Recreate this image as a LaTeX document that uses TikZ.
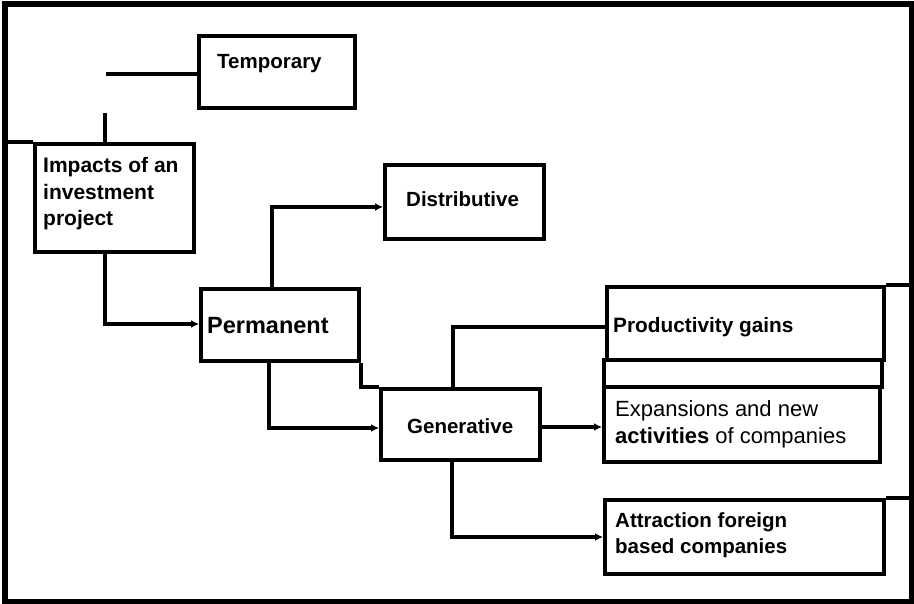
\documentclass[tikz,border=0pt]{standalone}
\usepackage{fontspec}
\setmainfont{Liberation Sans}
\usetikzlibrary{arrows.meta}
\begin{document}
\begin{tikzpicture}[x=1pt,y=-1pt,
  box/.style={draw, line width=4pt, rectangle, inner sep=0pt, anchor=north west},
  conn/.style={line width=3.5pt},
  arr/.style={conn, -{Latex[length=8pt,width=8pt]}},
  lbl/.style={inner sep=0pt, anchor=west, align=left, font=\bfseries\fontsize{20.5}{26}\selectfont},
]
\useasboundingbox (0,0) rectangle (914,604);
% outer frame
\draw[line width=5.5pt] (5,4) rectangle (912,602);
% boxes
\node[box, minimum width=156pt, minimum height=72pt] (temp) at (197,34) {};
\node[box, minimum width=159pt, minimum height=108pt] (imp) at (33,142) {};
\node[box, minimum width=159pt, minimum height=74pt] (dist) at (383,163) {};
\node[box, minimum width=158pt, minimum height=72pt] (perm) at (199,287) {};
\node[box, minimum width=159pt, minimum height=71pt] (gen) at (379,387) {};
\node[box, minimum width=277pt, minimum height=73pt] (prod) at (605,285) {};
\node[box, minimum width=278pt, minimum height=27pt] (strip) at (602,358) {};
\node[box, minimum width=276pt, minimum height=75pt] (exp) at (602,385) {};
\node[box, minimum width=279pt, minimum height=74pt] (attr) at (603,498) {};
% labels
\node[lbl] (tempT) at (217,64) {Temporary};
\node[lbl, font=\bfseries\fontsize{21}{26.5}\selectfont] (impT) at (43,194) {Impacts of an\\investment\\project};
\node[lbl] (distT) at (406,199) {Distributive};
\node[lbl, font=\bfseries\fontsize{23.5}{28}\selectfont] (permT) at (207,326) {Permanent};
\node[lbl] (genT) at (407,426) {Generative};
\node[lbl, font=\bfseries\fontsize{20.8}{26}\selectfont] (prodT) at (613,327) {Productivity gains};
\node[lbl, font=\fontsize{22}{27}\selectfont] (expT) at (615,424) {Expansions and new\\\textbf{activities} of companies};
\node[lbl] (attrT) at (615,535) {Attraction foreign\\based companies};
% coordinates
\coordinate (c1) at (105,113);
\coordinate (c2) at (106,74);
\coordinate (fl) at (5,142);
\coordinate (fr1) at (912,285);
\coordinate (fr2) at (912,498);
% connectors
\draw[conn] (imp.north west -| c1) -- (c1);
\draw[conn] (c2) -- (c2 -| temp.west);
\draw[line width=4pt] (fl) -- (imp.north west);
\draw[arr] (105,250 -| c1) |- (perm.west |- 0,324);
\draw[arr] (perm.north west) ++(73,0) |- (dist.west |- 0,207);
\draw[arr] (perm.south west) ++(70,0) |- (gen.west |- 0,428);
\draw[conn] (perm.south east) -- (perm.south east |- gen.north) -- (gen.north west);
\draw[conn] (gen.north west) ++(74,0) |- (prod.west |- 0,327);
\draw[arr] (gen.east |- 0,427) -- (exp.west |- 0,427);
\draw[arr] (gen.south west) ++(73,0) |- (attr.west |- 0,537);
\draw[line width=4pt] (prod.north east) -- (fr1);
\draw[line width=4pt] (attr.north east) -- (fr2);
\end{tikzpicture}
\end{document}
